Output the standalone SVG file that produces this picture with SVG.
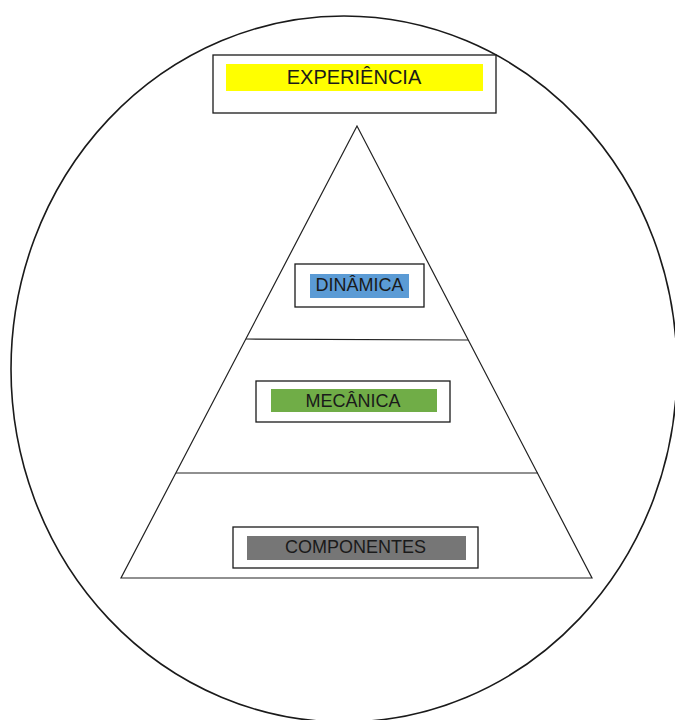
<svg xmlns="http://www.w3.org/2000/svg" width="675" height="720" viewBox="0 0 675 720">
<style>
.box{fill:#fff;stroke:#1a1a1a;stroke-width:1.3}
.lbl{font-family:"Liberation Sans",Arial,sans-serif;font-size:18px;fill:#1a1a1a;text-anchor:middle}
.ln{stroke:#222;stroke-width:1.2;fill:none}
</style>
<rect width="675" height="720" fill="#fff"/>
<g id="circle"><ellipse cx="344" cy="369" rx="333" ry="353" fill="none" stroke="#1a1a1a" stroke-width="1.6"/></g>
<g id="pyramid">
<polygon points="357,126 121,578 592,578" class="ln"/>
<line x1="246" y1="339" x2="468" y2="340" class="ln" stroke-width="1.4"/>
<line x1="176" y1="473" x2="538" y2="473" class="ln" stroke-width="1.4"/>
</g>
<g id="experiencia">
<rect x="213" y="55" width="283" height="58" class="box"/>
<rect x="226" y="64" width="257" height="27" fill="#ffff00"/>
<text x="354" y="84" class="lbl" style="font-size:20px">EXPERIÊNCIA</text>
</g>
<g id="dinamica">
<rect x="295" y="264" width="129" height="43" class="box"/>
<rect x="310" y="274" width="99" height="24" fill="#5b9bd5"/>
<text x="359.5" y="291" class="lbl">DINÂMICA</text>
</g>
<g id="mecanica">
<rect x="256" y="381" width="194" height="41" class="box"/>
<rect x="271" y="389" width="166" height="23" fill="#70ad47"/>
<text x="353" y="407" class="lbl">MECÂNICA</text>
</g>
<g id="componentes">
<rect x="233" y="527" width="245" height="41" class="box"/>
<rect x="247" y="536" width="219" height="24" fill="#767676"/>
<text x="355.5" y="553" class="lbl">COMPONENTES</text>
</g>
</svg>
